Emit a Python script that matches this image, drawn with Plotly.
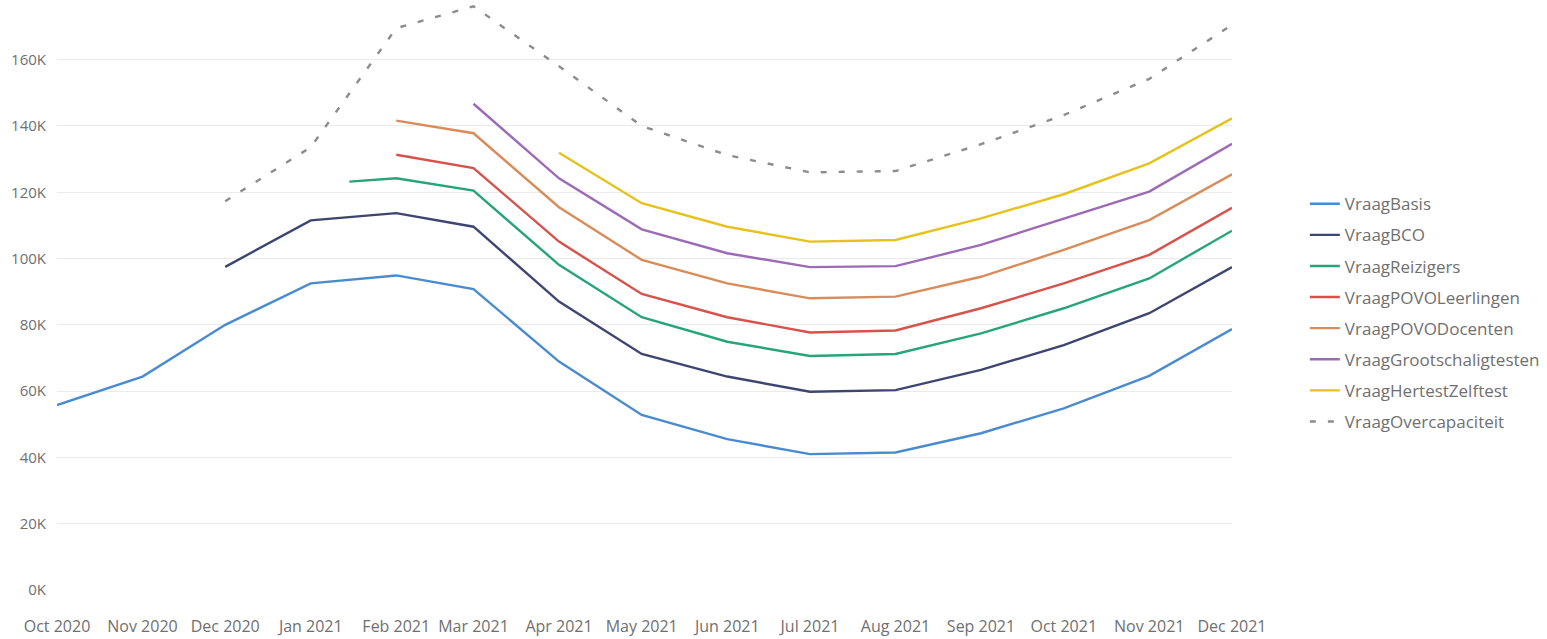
import plotly.graph_objects as go

# ---- data ----
months = ["2020-10-01", "2020-11-01", "2020-12-01", "2021-01-01", "2021-02-01",
          "2021-03-01", "2021-04-01", "2021-05-01", "2021-06-01", "2021-07-01",
          "2021-08-01", "2021-09-01", "2021-10-01", "2021-11-01", "2021-12-01"]

vraag_basis = [55800, 64400, 80000, 92500, 94900, 90800, 68900, 52800, 45500,
               41000, 41500, 47300, 54800, 64600, 78700]
vraag_bco = [None, None, 97500, 111500, 113700, 109600, 87000, 71200, 64400,
             59800, 60300, 66400, 73900, 83500, 97400]
reizigers_dates = ["2021-01-15", "2021-02-01", "2021-03-01", "2021-04-01", "2021-05-01",
                   "2021-06-01", "2021-07-01", "2021-08-01", "2021-09-01", "2021-10-01",
                   "2021-11-01", "2021-12-01"]
vraag_reizigers = [123200, 124200, 120500, 98100, 82300, 74900, 70600, 71200,
                   77400, 85000, 94000, 108400]
vraag_povo_leerlingen = [None, None, None, None, 131300, 127300, 105100, 89300,
                         82300, 77700, 78300, 85000, 92500, 101100, 115300]
vraag_povo_docenten = [None, None, None, None, 141600, 137800, 115500, 99600,
                       92500, 88000, 88500, 94500, 102600, 111600, 125400]
vraag_grootschalig = [None, None, None, None, None, 146700, 124200, 108800,
                      101600, 97400, 97700, 104100, 112100, 120200, 134600]
vraag_hertest = [None, None, None, None, None, None, 131900, 116700, 109600,
                 105100, 105600, 112100, 119400, 128700, 142300]
vraag_overcap = [None, None, 117300, 133600, 169500, 176100, 158000, 140000,
                 131200, 126000, 126400, 134500, 143300, 154200, 170500]

y_tickvals = [0, 20000, 40000, 60000, 80000, 100000, 120000, 140000, 160000]
y_ticktext = ["0K", "20K", "40K", "60K", "80K", "100K", "120K", "140K", "160K"]

FONT = "Open Sans"
TXT = "#707070"

series = [
    ("VraagBasis", months, vraag_basis, "#4a8bd0", "solid"),
    ("VraagBCO", months, vraag_bco, "#3d4670", "solid"),
    ("VraagReizigers", reizigers_dates, vraag_reizigers, "#27a47a", "solid"),
    ("VraagPOVOLeerlingen", months, vraag_povo_leerlingen, "#d6524b", "solid"),
    ("VraagPOVODocenten", months, vraag_povo_docenten, "#d98c5a", "solid"),
    ("VraagGrootschaligtesten", months, vraag_grootschalig, "#9c6bb6", "solid"),
    ("VraagHertestZelftest", months, vraag_hertest, "#e6c21c", "solid"),
    ("VraagOvercapaciteit", months, vraag_overcap, "#8c8c8c", "6px,12px"),
]

fig = go.Figure()
for name, xs, ys, color, dash in series:
    fig.add_trace(go.Scatter(
        x=xs, y=ys, name=name, mode="lines", legendgroup=name,
        line=dict(color=color, width=2.4, dash=dash),
        connectgaps=False,
    ))

fig.update_layout(
    width=1547, height=639,
    margin=dict(l=57, r=315, t=0, b=49),
    paper_bgcolor="white", plot_bgcolor="white",
    font=dict(family=FONT, color=TXT, size=15),
    showlegend=True,
    legend=dict(
        x=1.062, xanchor="left", y=0.47, yanchor="middle",
        font=dict(family=FONT, size=17, color=TXT),
        traceorder="grouped", tracegroupgap=6,
        bgcolor="rgba(0,0,0,0)",
    ),
    xaxis=dict(
        type="date", range=["2020-10-01", "2021-12-01"],
        tickvals=months, tickformat="%b %Y",
        showgrid=False, zeroline=False, showline=False, ticks="",
        tickfont=dict(family=FONT, size=16, color=TXT),
        ticklabelstandoff=25,
    ),
    yaxis=dict(
        range=[0, 178000], tickvals=y_tickvals, ticktext=y_ticktext,
        showgrid=True, gridcolor="#ebebeb", gridwidth=1,
        zeroline=False, showline=False, ticks="",
        tickfont=dict(family=FONT, size=15, color=TXT),
        ticklabelstandoff=10,
    ),
)

fig.write_html("out.html", config={"displayModeBar": False},
               post_script="document.body.style.margin='0';")
